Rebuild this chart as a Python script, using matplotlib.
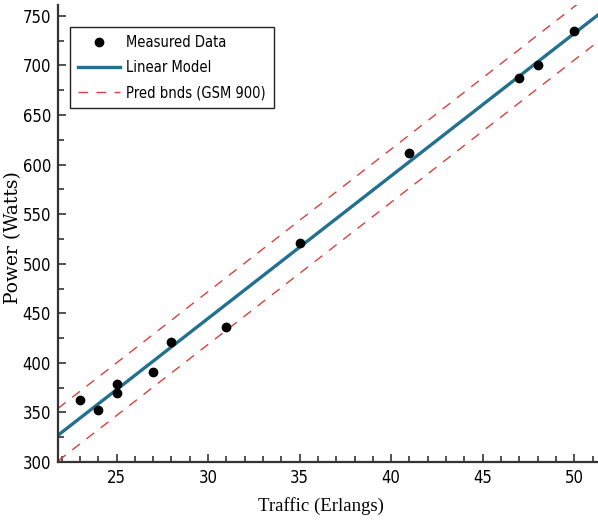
import matplotlib
matplotlib.use("Agg")
import matplotlib.pyplot as plt
from matplotlib import font_manager
from matplotlib.ticker import MultipleLocator

# measured points
traffic = [23, 24, 25, 25, 27, 28, 31, 35, 41, 47, 48, 50]
power = [363, 352, 379, 370, 391, 421, 436, 521, 612, 687, 700, 735]

# fitted line and prediction bounds, read at the two ends of the x range
model_x = [21.8, 51.3]
model_y = [327, 751]
upper_y = [354, 778]
lower_y = [301, 724]

legend_labels = ["Measured Data", "Linear Model", "Pred bnds (GSM 900)"]

# narrow sans for numbers, like the original
names = {f.name for f in font_manager.fontManager.ttflist}
if "Liberation Sans Narrow" in names:
    narrow = font_manager.FontProperties(family="Liberation Sans Narrow")
else:
    narrow = font_manager.FontProperties(family="DejaVu Sans", stretch="condensed")

fig = plt.figure(figsize=(5.98, 5.20), dpi=100)
ax = fig.add_axes([58 / 598, 1 - 462 / 520, 540 / 598, 457 / 520])

pts, = ax.plot(traffic, power, "o", color="black", markersize=6, zorder=3)
fit, = ax.plot(model_x, model_y, color="#23708f", lw=2.4, zorder=2)
bnd, = ax.plot(model_x, upper_y, color="#d8403c", lw=1.0, dashes=(7, 6))
ax.plot(model_x, lower_y, color="#d8403c", lw=1.0, dashes=(7, 6))

ax.set_xlim(21.8, 51.3)
ax.set_ylim(300, 761)

ax.xaxis.set_major_locator(MultipleLocator(5))
ax.xaxis.set_minor_locator(MultipleLocator(1))
ax.yaxis.set_major_locator(MultipleLocator(50))
ax.yaxis.set_minor_locator(MultipleLocator(25))
ax.tick_params(which="both", direction="in", color="#333333", width=1.2)
ax.tick_params(which="major", length=6, pad=5)
ax.tick_params(which="minor", length=4)
for lab in ax.get_xticklabels() + ax.get_yticklabels():
    lab.set_fontproperties(narrow)
    lab.set_fontsize(12)

for side in ["top", "right"]:
    ax.spines[side].set_visible(False)
for side in ["left", "bottom"]:
    ax.spines[side].set_color("#333333")
    ax.spines[side].set_linewidth(1.6)

fig.text(321 / 598, 1 - 506 / 520, "Traffic (Erlangs)", family="Liberation Serif",
         fontsize=13.5, ha="center", va="center")
fig.text(13 / 598, 1 - 238 / 520, "Power (Watts)", family="DejaVu Serif",
         fontsize=13.5, ha="center", va="center", rotation=90)

leg_prop = narrow.copy()
leg_prop.set_size(10.5)
leg = ax.legend([pts, fit, bnd], legend_labels, loc="upper left",
                bbox_to_anchor=(0.022, 0.952), prop=leg_prop,
                fancybox=False, framealpha=1, edgecolor="#222222",
                handlelength=2.9, handletextpad=0.4, labelspacing=0.7,
                borderpad=0.55, borderaxespad=0)
leg.get_frame().set_linewidth(1.0)

fig.savefig("out.png", dpi=100)
